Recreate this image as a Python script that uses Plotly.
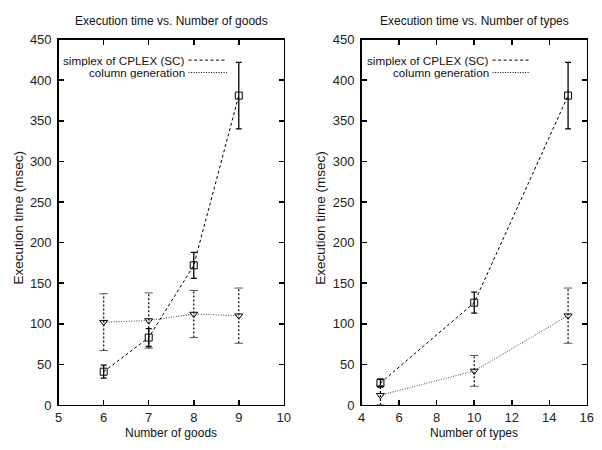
import plotly.graph_objects as go

# ---- data ----
goods = [6, 7, 8, 9]
sc_goods = [41, 83, 172, 381]
sc_goods_err = [8, 11, 16, 41]
cg_goods = [102, 104, 112, 110]
cg_goods_err = [35, 34, 29, 34]

types = [5, 10, 15]
sc_types = [27, 126, 381]
sc_types_err = [5, 13, 41]
cg_types = [12, 42, 110]
cg_types_err = [12, 19, 34]

titles = ["Execution time vs. Number of goods", "Execution time vs. Number of types"]
xtitles = ["Number of goods", "Number of types"]
ytitle = "Execution time (msec)"
legend_names = ["simplex of CPLEX (SC)", "column generation"]

FONT = "Liberation Sans, Arial, Helvetica, sans-serif"
W, H = 602, 450
# plot area pixels
L1, R1 = 55.7, 285.0
L2, R2 = 364.3, 593.7
T, B = 33.7, 411.7

fig = go.Figure()


def add_panel(xs, sc, sce, cg, cge, xa, ya):
    fig.add_trace(go.Scatter(
        x=xs, y=sc, mode="lines+markers", xaxis=xa, yaxis=ya,
        line=dict(color="black", width=1, dash="3px,2.5px"),
        marker=dict(symbol="square-open", size=7, color="black", line=dict(width=1)),
        error_y=dict(type="data", array=sce, visible=True, color="black", thickness=1.3, width=3),
        showlegend=False))
    ex, ey = [], []
    for x, v, e in zip(xs, cg, cge):
        ex += [x, x, None]
        ey += [v - e, v + e, None]
    fig.add_trace(go.Scatter(
        x=ex, y=ey, mode="lines", xaxis=xa, yaxis=ya,
        line=dict(color="black", width=1.2, dash="2px,2px"), showlegend=False, connectgaps=False))
    cx = list(xs) + list(xs)
    cy = [v - e for v, e in zip(cg, cge)] + [v + e for v, e in zip(cg, cge)]
    fig.add_trace(go.Scatter(
        x=cx, y=cy, mode="markers", xaxis=xa, yaxis=ya,
        marker=dict(symbol="line-ew", size=6, line=dict(color="#555", width=1)),
        showlegend=False))
    fig.add_trace(go.Scatter(
        x=xs, y=cg, mode="lines+markers", xaxis=xa, yaxis=ya,
        line=dict(color="#444", width=1, dash="1px,1.5px"),
        marker=dict(symbol="triangle-down-open", size=7, color="black", line=dict(width=1)),
        showlegend=False))


add_panel(goods, sc_goods, sc_goods_err, cg_goods, cg_goods_err, "x", "y")
add_panel(types, sc_types, sc_types_err, cg_types, cg_types_err, "x2", "y2")

axis_common = dict(
    showline=True, linecolor="black", linewidth=1.5, mirror="ticks",
    ticks="inside", ticklen=5, tickcolor="black", tickwidth=1.5,
    showgrid=False, zeroline=False,
    tickfont=dict(family=FONT, size=13, color="#222"),
)

fig.update_layout(
    width=W, height=H,
    margin=dict(l=0, r=0, t=0, b=0),
    paper_bgcolor="white", plot_bgcolor="white",
    font=dict(family=FONT, size=12, color="#222"),
    hovermode=False,
    xaxis=dict(domain=[L1 / W, R1 / W], range=[5, 10], dtick=1, anchor="y", **axis_common),
    yaxis=dict(domain=[1 - B / H, 1 - T / H], range=[0, 450], dtick=50, anchor="x",
               ticklabelstandoff=3, **axis_common),
    xaxis2=dict(domain=[L2 / W, R2 / W], range=[4, 16], dtick=2, anchor="y2", **axis_common),
    yaxis2=dict(domain=[1 - B / H, 1 - T / H], range=[0, 450], dtick=50, anchor="x2",
                ticklabelstandoff=3, **axis_common),
)

for i, (L, R) in enumerate([(L1, R1), (L2, R2)]):
    cx = (L + R) / 2 / W
    fig.add_annotation(text=titles[i], xref="paper", yref="paper", x=cx, y=1 - 15 / H,
                       showarrow=False, font=dict(size=12, family=FONT, color="#111"),
                       xanchor="center", yanchor="middle")
    fig.add_annotation(text=xtitles[i], xref="paper", yref="paper", x=cx, y=1 - 441 / H,
                       showarrow=False, font=dict(size=12, family=FONT, color="#111"),
                       xanchor="center", yanchor="middle")
    yx = (15 if i == 0 else 323) / W
    fig.add_annotation(text=ytitle, xref="paper", yref="paper", x=yx, y=1 - 218 / H,
                       showarrow=False, textangle=-90, font=dict(size=13.5, family=FONT, color="#111"),
                       xanchor="center", yanchor="middle")

for xd, yd, txt_end, s0, s1 in [("x domain", "y domain", 0.564, 0.577, 0.747),
                                 ("x2 domain", "y2 domain", 0.570, 0.5815, 0.7485)]:
    for name, yy, dash in zip(legend_names, [0.9437, 0.910], ["3px,2.5px", "1px,1.5px"]):
        fig.add_annotation(text=name, xref=xd, yref=yd, x=txt_end, y=yy, showarrow=False,
                           xanchor="right", yanchor="middle", height=12.6, borderpad=0,
                           font=dict(size=11.7, family=FONT, color="#111"))
        fig.add_shape(type="line", xref=xd, yref=yd, x0=s0, x1=s1, y0=yy, y1=yy,
                      line=dict(color="black", width=1, dash=dash))

fig.write_html("out.html", config={"displayModeBar": False, "staticPlot": True},
               post_script="document.body.style.margin='0';")
